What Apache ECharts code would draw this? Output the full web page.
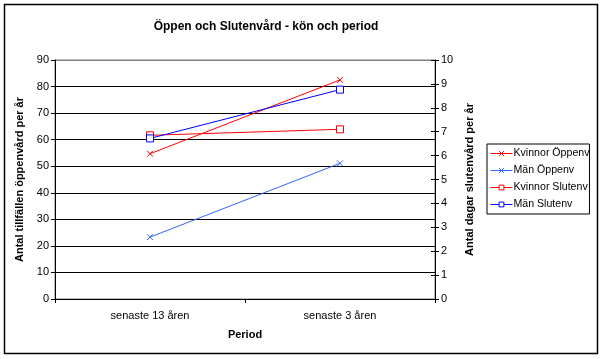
<!DOCTYPE html>
<html>
<head>
<meta charset="utf-8">
<script src="https://cdn.jsdelivr.net/npm/echarts@6/dist/echarts.min.js"></script>
<style>html,body{margin:0;padding:0;background:#fff}#c{width:604px;height:359px}</style>
</head>
<body>
<div id="c"></div>
<script>
const categories = ['senaste 13 åren', 'senaste 3 åren'];
const kvinnorOppen = [54.7, 82.5];
const manOppen = [23.3, 51.1];
const kvinnorSluten = [6.85, 7.10];
const manSluten = [6.72, 8.76];
const seriesNames = ['Kvinnor Öppenv', 'Män Öppenv', 'Kvinnor Slutenv', 'Män Slutenv'];

const FONT = '"Liberation Sans", Arial, sans-serif';
const xPath = 'path://M0,0L10,10M10,0L0,10';
const chart = echarts.init(document.getElementById('c'), null, {renderer: 'canvas'});

const gridColors = ['#000','#000','#000','#000','#000','#000','#000','#000','#000','#808080'];

function lineSeries(name, data, color, symbol, yIdx) {
  const isX = symbol === 'x';
  return {
    name, type: 'line', data, yAxisIndex: yIdx,
    symbol: isX ? xPath : 'rect',
    symbolSize: isX ? 6 : 7,
    showAllSymbol: true,
    lineStyle: {color, width: 1},
    itemStyle: isX ? {color: 'none', borderColor: color, borderWidth: 1}
                   : {color: '#fff', borderColor: color, borderWidth: 1},
    emphasis: {disabled: true},
    animation: false,
    z: 3
  };
}

chart.setOption({
  animation: false,
  backgroundColor: '#fff',
  title: {
    text: 'Öppen och Slutenvård - kön och period',
    left: 261, top: 16, textAlign: 'center',
    textStyle: {fontFamily: FONT, fontSize: 12, fontWeight: 'bold', color: '#000'}
  },
  legend: {
    orient: 'vertical',
    left: 487, top: 144,
    padding: [4, 0, 4, 3],
    itemGap: 6,
    itemWidth: 22, itemHeight: 6,
    borderColor: '#000', borderWidth: 1,
    itemStyle: {borderWidth: 1},
    lineStyle: {width: 1},
    textStyle: {fontFamily: FONT, fontSize: 10.6, color: '#000', padding: [0,0,0,-4]},
    data: seriesNames
  },
  grid: {
    left: 55, top: 60, width: 380, height: 239,
    show: true, borderColor: '#808080', borderWidth: 1
  },
  xAxis: {
    type: 'category',
    data: categories,
    boundaryGap: true,
    name: 'Period',
    nameLocation: 'middle',
    nameGap: 30,
    nameTextStyle: {fontFamily: FONT, fontSize: 11, fontWeight: 'bold', color: '#000'},
    axisLine: {lineStyle: {color: '#000', width: 1}},
    axisTick: {show: true, length: 4, inside: false, lineStyle: {color: '#000'}},
    axisLabel: {fontFamily: FONT, fontSize: 11, color: '#000', margin: 11},
    splitLine: {show: false}
  },
  yAxis: [
    {
      type: 'value', min: 0, max: 90, interval: 10, position: 'left',
      name: 'Antal tillfällen öppenvård per år',
      nameLocation: 'middle', nameGap: 24, nameRotate: 90,
      nameTextStyle: {fontFamily: FONT, fontSize: 11, fontWeight: 'bold', color: '#000'},
      axisLine: {show: true, lineStyle: {color: '#000', width: 1}},
      axisTick: {show: true, length: 4, lineStyle: {color: '#000'}},
      axisLabel: {fontFamily: FONT, fontSize: 11, color: '#000', margin: 6},
      splitLine: {show: true, lineStyle: {color: gridColors, width: 1}}
    },
    {
      type: 'value', min: 0, max: 10, interval: 1, position: 'right',
      name: 'Antal dagar slutenvård per år',
      nameLocation: 'middle', nameGap: 28, nameRotate: 90,
      nameTextStyle: {fontFamily: FONT, fontSize: 11, fontWeight: 'bold', color: '#000'},
      axisLine: {show: true, lineStyle: {color: '#000', width: 1}},
      axisTick: {show: true, length: 4, lineStyle: {color: '#000'}},
      axisLabel: {fontFamily: FONT, fontSize: 11, color: '#000', margin: 6},
      splitLine: {show: false}
    },
    {
      type: 'value', min: 0, max: 10, interval: 1, position: 'right',
      axisLine: {show: false},
      axisTick: {show: true, inside: true, length: 4, lineStyle: {color: '#000'}},
      axisLabel: {show: false},
      splitLine: {show: false}
    }
  ],
  graphic: [{
    type: 'rect', silent: true, z: 100,
    shape: {x: 4.5, y: 4.5, width: 593, height: 349},
    style: {fill: 'none', stroke: '#000', lineWidth: 1.5}
  }],
  series: [
    lineSeries(seriesNames[0], kvinnorOppen, '#FF0000', 'x', 0),
    lineSeries(seriesNames[1], manOppen, '#3366FF', 'x', 0),
    lineSeries(seriesNames[2], kvinnorSluten, '#FF0000', 'rect', 1),
    lineSeries(seriesNames[3], manSluten, '#0000FF', 'rect', 1)
  ]
});
</script>
</body>
</html>
